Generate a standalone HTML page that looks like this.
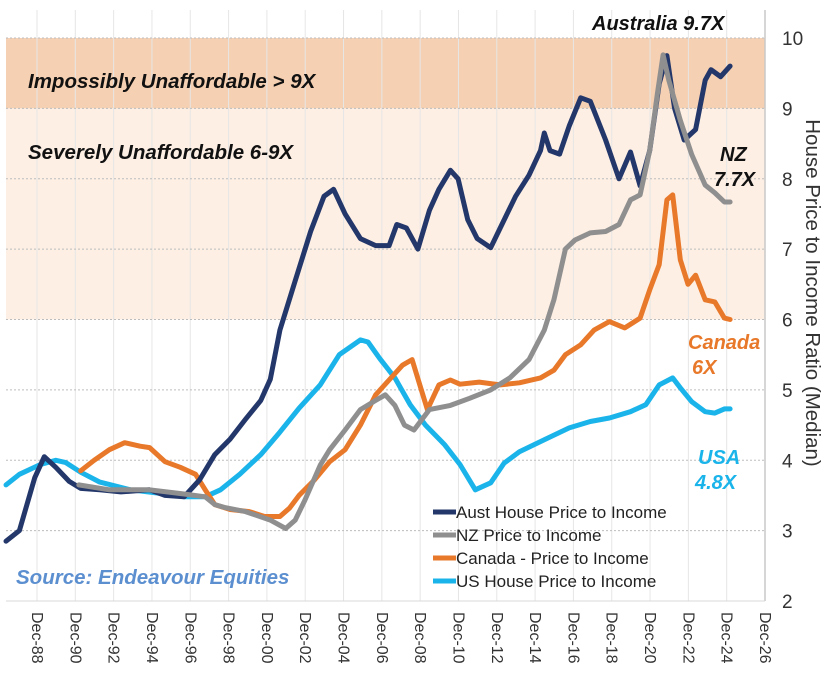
<!DOCTYPE html>
<html><head><meta charset="utf-8">
<style>
html,body{margin:0;padding:0;background:#fff;}
svg{display:block;font-family:"Liberation Sans",sans-serif;}
.lbl{font-weight:bold;font-style:italic;}
</style></head>
<body>
<svg id="chart" width="836" height="676" viewBox="0 0 836 676">
<g id="bands"></g>
<g id="grid"></g>
<g id="series"></g>
<g id="axes"></g>
<g id="texts">
<text class="lbl" x="592" y="30" font-size="20" fill="#111">Australia 9.7X</text>
<text class="lbl" x="28" y="88" font-size="20.5" fill="#111">Impossibly Unaffordable &gt; 9X</text>
<text class="lbl" x="28" y="159" font-size="20.5" fill="#111">Severely Unaffordable 6-9X</text>
<text class="lbl" x="720" y="161" font-size="20" fill="#111">NZ</text>
<text class="lbl" x="714" y="186" font-size="20" fill="#111">7.7X</text>
<text class="lbl" x="688" y="349" font-size="20" fill="#e8782a">Canada</text>
<text class="lbl" x="692" y="374" font-size="20" fill="#e8782a">6X</text>
<text class="lbl" x="698" y="464" font-size="20" fill="#1ab4ea">USA</text>
<text class="lbl" x="695" y="489" font-size="20" fill="#1ab4ea">4.8X</text>
<text class="lbl" x="16" y="584" font-size="20.5" fill="#5b8fd0">Source: Endeavour Equities</text>
</g>
<g id="legend"></g>
</svg>
<script>
const ticksY = [2,3,4,5,6,7,8,9,10];
const tickLabelsX = ["Dec-88","Dec-90","Dec-92","Dec-94","Dec-96","Dec-98","Dec-00","Dec-02","Dec-04","Dec-06","Dec-08","Dec-10","Dec-12","Dec-14","Dec-16","Dec-18","Dec-20","Dec-22","Dec-24","Dec-26"];
const tickYearsX = [1988.92,1990.92,1992.92,1994.92,1996.92,1998.92,2000.92,2002.92,2004.92,2006.92,2008.92,2010.92,2012.92,2014.92,2016.92,2018.92,2020.92,2022.92,2024.92,2026.92];
const seriesNames = ["US House Price to Income","Canada - Price to Income","Aust House Price to Income","NZ Price to Income"];
const ausYears = [1987.3,1988.0,1988.8,1989.3,1989.9,1990.6,1991.2,1992.2,1993.3,1994.8,1995.6,1996.6,1997.4,1998.2,1999.0,1999.8,2000.6,2001.1,2001.6,2002.4,2003.2,2003.9,2004.4,2005.0,2005.8,2006.6,2007.3,2007.7,2008.2,2008.8,2009.4,2009.9,2010.5,2010.9,2011.4,2011.9,2012.6,2013.1,2013.9,2014.6,2015.2,2015.4,2015.7,2016.2,2016.7,2017.3,2017.8,2018.6,2019.3,2019.9,2020.4,2020.9,2021.4,2021.8,2022.2,2022.7,2023.3,2023.8,2024.1,2024.6,2025.1];
const ausValues = [2.85,3.0,3.75,4.05,3.9,3.7,3.6,3.58,3.55,3.58,3.5,3.48,3.72,4.08,4.3,4.58,4.85,5.15,5.85,6.55,7.25,7.75,7.85,7.5,7.15,7.05,7.05,7.35,7.3,7.0,7.55,7.85,8.12,8.0,7.42,7.15,7.02,7.3,7.75,8.05,8.4,8.65,8.4,8.35,8.75,9.15,9.1,8.55,8.0,8.38,7.9,8.4,9.35,9.75,9.0,8.55,8.7,9.4,9.55,9.45,9.6];
const nzYears = [1991.1,1992.7,1994.8,1996.6,1997.7,1998.2,1998.7,1999.8,2001.1,2001.9,2002.4,2002.9,2003.7,2004.2,2005.0,2005.8,2006.6,2007.1,2007.6,2008.1,2008.6,2009.4,2010.5,2011.5,2012.6,2013.6,2014.6,2015.4,2015.9,2016.5,2017.0,2017.8,2018.6,2019.3,2019.9,2020.4,2020.9,2021.3,2021.6,2021.9,2022.5,2023.1,2023.8,2024.3,2024.8,2025.1];
const nzValues = [3.65,3.58,3.58,3.52,3.48,3.37,3.33,3.27,3.15,3.03,3.15,3.43,3.93,4.15,4.43,4.72,4.85,4.93,4.78,4.5,4.43,4.72,4.78,4.88,5.0,5.17,5.43,5.85,6.28,7.0,7.13,7.23,7.25,7.35,7.7,7.77,8.4,9.2,9.76,9.4,8.83,8.34,7.91,7.8,7.67,7.67];
const canYears = [1991.2,1991.9,1992.7,1993.5,1994.3,1994.8,1995.6,1996.4,1997.2,1997.7,1998.2,1999.0,2000.0,2000.8,2001.6,2002.1,2002.6,2003.4,2004.2,2005.0,2005.8,2006.6,2007.3,2008.0,2008.5,2008.9,2009.3,2009.9,2010.5,2011.0,2012.0,2013.1,2014.1,2015.2,2015.9,2016.5,2017.3,2018.0,2018.8,2019.6,2020.4,2020.9,2021.4,2021.8,2022.1,2022.5,2022.9,2023.3,2023.8,2024.3,2024.8,2025.1];
const canValues = [3.85,4.0,4.15,4.25,4.2,4.18,3.98,3.9,3.8,3.58,3.37,3.3,3.27,3.2,3.2,3.32,3.5,3.72,3.98,4.15,4.5,4.93,5.14,5.35,5.43,5.07,4.72,5.07,5.14,5.08,5.11,5.07,5.1,5.17,5.28,5.5,5.64,5.85,5.97,5.88,6.02,6.42,6.78,7.7,7.77,6.85,6.5,6.63,6.28,6.25,6.02,6.0];
const usYears = [1987.3,1988.0,1989.1,1989.9,1990.4,1991.2,1992.2,1993.8,1995.3,1996.6,1997.7,1998.5,1999.5,2000.6,2001.6,2002.6,2003.7,2004.7,2005.8,2006.2,2006.8,2007.6,2008.4,2009.2,2010.2,2011.0,2011.8,2012.6,2013.3,2014.1,2015.4,2016.7,2017.8,2018.8,2019.9,2020.7,2021.4,2022.1,2022.5,2023.1,2023.8,2024.3,2024.8,2025.1];
const usValues = [3.65,3.8,3.94,4.0,3.97,3.83,3.69,3.58,3.53,3.48,3.48,3.58,3.8,4.08,4.4,4.74,5.07,5.5,5.71,5.68,5.45,5.17,4.79,4.5,4.22,3.94,3.58,3.68,3.96,4.12,4.29,4.46,4.55,4.6,4.69,4.79,5.07,5.17,5.03,4.83,4.69,4.67,4.73,4.73];

const NS="http://www.w3.org/2000/svg";
const X0=37, X1=765, PLOT_L=6, PLOT_R=765;
function xScale(t){return X0+(t-tickYearsX[0])*(X1-X0)/(tickYearsX[tickYearsX.length-1]-tickYearsX[0]);}
function yScale(v){return 601-(v-2)*(601-38)/8;}
function mk(tag,attrs,parent){const e=document.createElementNS(NS,tag);for(const k in attrs)e.setAttribute(k,attrs[k]);parent.appendChild(e);return e;}

const bands=document.getElementById('bands');
let b1=mk('rect',{x:PLOT_L,y:yScale(10),width:PLOT_R-PLOT_L,height:yScale(9)-yScale(10),fill:'#f6d0b2'},bands);


let b2=mk('rect',{x:PLOT_L,y:yScale(9),width:PLOT_R-PLOT_L,height:yScale(6)-yScale(9),fill:'#fdefe4'},bands);



const grid=document.getElementById('grid');
tickYearsX.forEach((t,i)=>{
  let l=mk('line',{x1:xScale(t),x2:xScale(t),y1:10,y2:601,stroke:'#e6e6e6','stroke-width':1},grid);
  
  
});
ticksY.forEach(v=>{
  if(v===2)return;
  let l=mk('line',{x1:PLOT_L,x2:PLOT_R,y1:yScale(v),y2:yScale(v),stroke:'#bdbdbd','stroke-width':1,'stroke-dasharray':'2,2'},grid);
  
  
});

const seriesG=document.getElementById('series');
const colors=["#1ab4ea","#e8782a","#23376a","#8f8f8f"];
const sets=[[usYears,usValues],[canYears,canValues],[ausYears,ausValues],[nzYears,nzValues]];
const slugs=["us-line","canada-line","australia-line","nz-line"];
sets.forEach((s,i)=>{
  const d=s[0].map((t,j)=>(j?'L':'M')+xScale(t).toFixed(1)+','+yScale(s[1][j]).toFixed(1)).join(' ');
  let p=mk('path',{d:d,fill:'none',stroke:colors[i],'stroke-width':5,'stroke-linejoin':'round','stroke-linecap':'round'},seriesG);
  
  
});

const axes=document.getElementById('axes');
let ax=mk('line',{x1:PLOT_R,x2:PLOT_R,y1:10,y2:601,stroke:'#c8c8c8','stroke-width':1.5},axes);


let bx=mk('line',{x1:PLOT_L,x2:PLOT_R,y1:601,y2:601,stroke:'#d8d8d8','stroke-width':1},axes);


ticksY.forEach(v=>{
  let t=mk('text',{x:782,y:yScale(v)+7,'font-size':19,fill:'#333'},axes);
  t.textContent=v;
  
  
});
tickLabelsX.forEach((lab,i)=>{
  const x=xScale(tickYearsX[i]);
  let t=mk('text',{x:0,y:0,'font-size':16,fill:'#333',transform:`translate(${x-5},612) rotate(90)`},axes);
  t.textContent=lab;
  
  
});
let yt=mk('text',{x:0,y:0,'font-size':20.5,fill:'#333','text-anchor':'middle',transform:'translate(806,293) rotate(90)'},axes);
yt.textContent='House Price to Income Ratio (Median)';



const legend=document.getElementById('legend');
const legOrder=[2,3,1,0];
legOrder.forEach((si,k)=>{
  const y=512+k*23;
  let g=mk('g',{},legend);
  
  
  mk('line',{x1:433,x2:456,y1:y,y2:y,stroke:colors[si],'stroke-width':5},g);
  let t=mk('text',{x:456,y:y+6,'font-size':17,fill:'#222'},g);
  t.textContent=seriesNames[si];
});
</script>
</body></html>
